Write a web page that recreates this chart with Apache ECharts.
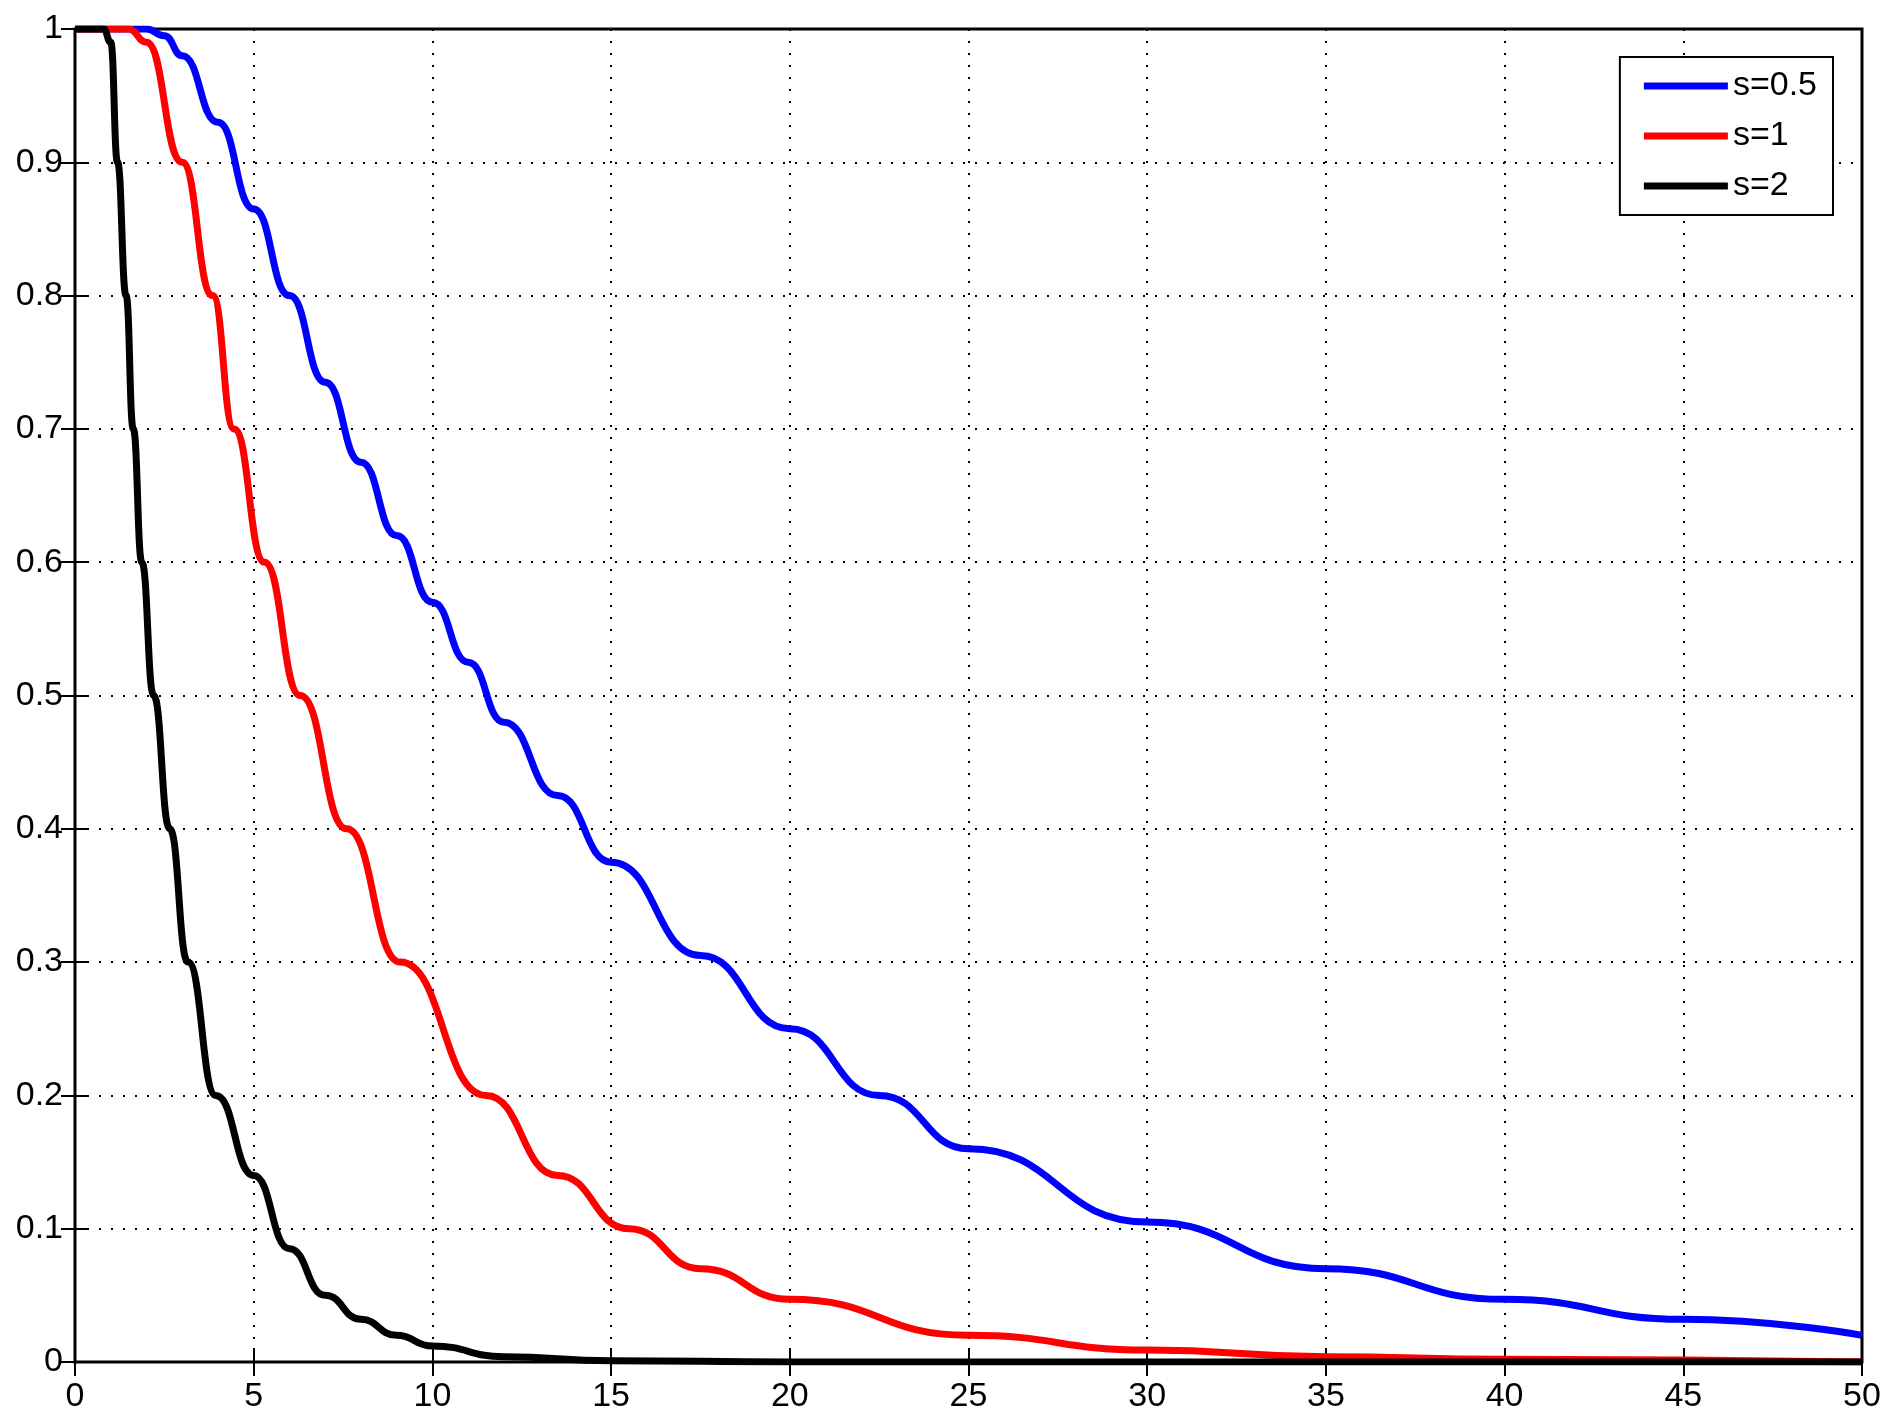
<!DOCTYPE html>
<html>
<head>
<meta charset="utf-8">
<script src="https://cdn.jsdelivr.net/npm/echarts@6/dist/echarts.min.js"></script>
</head>
<body style="margin:0;background:#fff">
<div id="chart" style="width:1901px;height:1428px"></div>
<script>
// values
var blueX = [0, 1, 2, 2.5, 3, 4, 5, 6, 7, 8, 9, 10, 11, 12, 13.5, 15, 17.5, 20, 22.5, 25, 30, 35, 40, 45, 50];
var blueY = [1, 1, 1, 0.995, 0.98, 0.93, 0.865, 0.8, 0.735, 0.675, 0.62, 0.57, 0.525, 0.48, 0.425, 0.375, 0.305, 0.25, 0.2, 0.16, 0.105, 0.07, 0.047, 0.032, 0.02];
var redX = [0, 1, 1.5, 2, 3, 3.85, 4.45, 5.3, 6.3, 7.6, 9.1, 11.5, 13.5, 15.5, 17.5, 20, 25, 30, 35, 40, 50];
var redY = [1, 1, 1, 0.99, 0.9, 0.8, 0.7, 0.6, 0.5, 0.4, 0.3, 0.2, 0.14, 0.1, 0.07, 0.047, 0.02, 0.009, 0.004, 0.002, 0];
var blackX = [0, 0.5, 0.8, 1, 1.19, 1.43, 1.63, 1.87, 2.2, 2.65, 3.16, 3.94, 5, 6, 7, 8, 9, 10, 12, 15, 20, 50];
var blackY = [1, 1, 1, 0.99, 0.9, 0.8, 0.7, 0.6, 0.5, 0.4, 0.3, 0.2, 0.14, 0.085, 0.05, 0.032, 0.02, 0.012, 0.004, 0.001, 0, 0];

function pairs(xs, ys) {
  return xs.map(function (x, i) { return [x, ys[i]]; });
}

var font = { fontFamily: 'Liberation Sans', fontSize: 34, color: '#000' };
var gridLine = { show: true, lineStyle: { color: '#000', type: [2, 10], width: 2 } };
var tick = { inside: true, length: 14, lineStyle: { color: '#000', width: 2 } };

var chart = echarts.init(document.getElementById('chart'));
chart.setOption({
  animation: false,
  grid: { left: 75, right: 39, top: 29, bottom: 66, show: true, borderColor: '#000', borderWidth: 3 },
  legend: {
    right: 68, top: 57, orient: 'vertical', itemWidth: 84, itemHeight: 7, itemGap: 16,
    padding: [12, 16, 12, 24], borderColor: '#000', borderWidth: 2, backgroundColor: '#fff',
    textStyle: font, icon: 'rect'
  },
  xAxis: [{
    type: 'value', min: 0, max: 50, interval: 5,
    axisLine: { show: false }, axisTick: tick,
    axisLabel: Object.assign({ margin: 18 }, font), splitLine: gridLine
  }, {
    type: 'value', position: 'top', min: 0, max: 50, interval: 5,
    axisLine: { show: false }, axisTick: tick,
    axisLabel: { show: false }, splitLine: { show: false }
  }],
  yAxis: [{
    type: 'value', min: 0, max: 1, interval: 0.1,
    axisLine: { show: false }, axisTick: tick,
    axisLabel: Object.assign({ margin: 12 }, font), splitLine: gridLine
  }, {
    type: 'value', position: 'right', min: 0, max: 1, interval: 0.1,
    axisLine: { show: false }, axisTick: tick,
    axisLabel: { show: false }, splitLine: { show: false }
  }],
  series: [
    { name: 's=0.5', type: 'line', smooth: 0.5, smoothMonotone: 'x', showSymbol: false, data: pairs(blueX, blueY), color: '#0000ff', lineStyle: { width: 7 } },
    { name: 's=1', type: 'line', smooth: 0.5, smoothMonotone: 'x', showSymbol: false, data: pairs(redX, redY), color: '#ff0000', lineStyle: { width: 7 } },
    { name: 's=2', type: 'line', smooth: 0.5, smoothMonotone: 'x', showSymbol: false, data: pairs(blackX, blackY), color: '#000000', lineStyle: { width: 7 } }
  ]
});
</script>
</body>
</html>
